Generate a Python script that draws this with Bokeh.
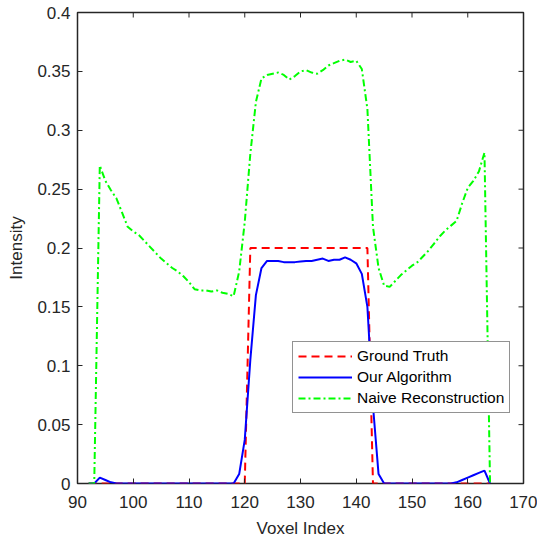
import math
from bokeh.plotting import figure
from bokeh.models import FixedTicker, Legend, LegendItem, Range1d, ColumnDataSource
from bokeh.embed import file_html
from bokeh.resources import INLINE

# ---------------- data ----------------
voxel_index = list(range(92, 165))

ground_truth = (
    [0.0] * (121 - 92) +          # 92..120
    [0.2] * (143 - 121) +         # 121..142
    [0.0] * (165 - 143)           # 143..164
)

our_algorithm = [
    0.0, 0.0, 0.005, 0.003, 0.001,                       # 92-96
    0.0, 0.0, 0.0, 0.0, 0.0, 0.0, 0.0, 0.0, 0.0, 0.0,    # 97-106
    0.0, 0.0, 0.0, 0.0, 0.0, 0.0, 0.0, 0.0, 0.0, 0.0,    # 107-116
    0.0, 0.0, 0.008, 0.037, 0.105, 0.160, 0.183,         # 117-123
    0.189, 0.189, 0.189, 0.188, 0.188, 0.188, 0.1885,    # 124-130
    0.189, 0.189, 0.190, 0.191, 0.189, 0.190, 0.190,    # 131-137
    0.192, 0.190, 0.187, 0.178, 0.150, 0.066, 0.008,    # 138-144
    0.0, 0.0, 0.0, 0.0, 0.0, 0.0, 0.0, 0.0, 0.0, 0.0,    # 145-154
    0.0, 0.0, 0.0, 0.001, 0.003, 0.005, 0.007, 0.009,   # 155-162
    0.011, 0.0,                                          # 163-164
]

naive_reconstruction = [
    0.0, 0.0, 0.270, 0.257, 0.249, 0.242, 0.230, 0.218,  # 92-99
    0.214, 0.211, 0.206, 0.201, 0.196, 0.191, 0.187,     # 100-106
    0.183, 0.180, 0.176, 0.171, 0.165, 0.164, 0.164,     # 107-113
    0.163, 0.164, 0.162, 0.161, 0.159, 0.180, 0.222,     # 114-120
    0.280, 0.324, 0.344, 0.347, 0.348, 0.349, 0.347,     # 121-127
    0.343, 0.346, 0.350, 0.351, 0.349, 0.348, 0.351,     # 128-134
    0.355, 0.357, 0.359, 0.360, 0.358, 0.359, 0.352,     # 135-141
    0.318, 0.218, 0.183, 0.168, 0.167, 0.172, 0.177,     # 142-148
    0.181, 0.185, 0.188, 0.193, 0.198, 0.204, 0.210,     # 149-155
    0.215, 0.219, 0.223, 0.238, 0.251, 0.257, 0.265,     # 156-162
    0.281, 0.0,                                          # 163-164
]

x_ticks = [90, 100, 110, 120, 130, 140, 150, 160, 170]
y_ticks = [0, 0.05, 0.1, 0.15, 0.2, 0.25, 0.3, 0.35, 0.4]
y_tick_labels = ["0", "0.05", "0.1", "0.15", "0.2", "0.25", "0.3", "0.35", "0.4"]

series_labels = ["Ground Truth", "Our Algorithm", "Naive Reconstruction"]

# ---------------- figure ----------------
FONT = "Liberation Sans"
TXT = "#262626"

src = ColumnDataSource(dict(x=voxel_index, gt=ground_truth, ours=our_algorithm, naive=naive_reconstruction))

p = figure(
    frame_width=446, frame_height=471,
    x_range=Range1d(x_ticks[0], x_ticks[-1]), y_range=Range1d(y_ticks[0], y_ticks[-1]),
    output_backend="svg", toolbar_location=None,
    min_border_left=77, min_border_right=14, min_border_top=12, min_border_bottom=58,
)
p.background_fill_color = "white"
p.border_fill_color = "white"
p.grid.visible = False
p.outline_line_color = TXT
p.outline_line_width = 1.5
p.outline_line_alpha = 1.0

r_gt = p.line("x", "gt", source=src, line_color="#FF0000", line_width=2, line_dash="8 5")
r_ours = p.line("x", "ours", source=src, line_color="#0000FF", line_width=2)
r_naive = p.line("x", "naive", source=src, line_color="#00FF00", line_width=2, line_dash="7 3 2 3")

for ax in (p.xaxis[0], p.yaxis[0]):
    ax.axis_line_color = None
    ax.major_tick_in = 5
    ax.major_tick_out = 0
    ax.minor_tick_line_color = None
    ax.major_tick_line_color = TXT
    ax.major_tick_line_width = 1
    ax.major_label_text_font = FONT
    ax.major_label_text_font_size = "17px"
    ax.major_label_text_color = TXT
    ax.axis_label_text_font = FONT
    ax.axis_label_text_font_size = "17px"
    ax.axis_label_text_font_style = "normal"
    ax.axis_label_text_color = TXT

p.xaxis.ticker = FixedTicker(ticks=x_ticks)
p.yaxis.ticker = FixedTicker(ticks=y_ticks)
p.yaxis.major_label_overrides = {t: s for t, s in zip(y_ticks, y_tick_labels)}
p.xaxis.axis_label = "Voxel Index"
p.yaxis.axis_label = "Intensity"
p.xaxis.major_label_standoff = 12
p.xaxis.axis_label_standoff = 8
p.yaxis.major_label_standoff = 7
p.yaxis.axis_label_standoff = 8

# mirrored inward ticks on the top and right edges of the box
p.ray(x=x_ticks, y=[y_ticks[-1]] * len(x_ticks), length=5, length_units="screen",
      angle=-math.pi / 2, line_color=TXT, line_width=1)
p.ray(x=[x_ticks[-1]] * len(y_ticks), y=y_ticks, length=5, length_units="screen",
      angle=math.pi, line_color=TXT, line_width=1)

legend = Legend(
    items=[
        LegendItem(label=series_labels[0], renderers=[r_gt]),
        LegendItem(label=series_labels[1], renderers=[r_ours]),
        LegendItem(label=series_labels[2], renderers=[r_naive]),
    ],
    location=(215, 70),
    border_line_color=TXT, border_line_width=1.5,
    background_fill_color="white", background_fill_alpha=1.0,
    padding=5, spacing=3, margin=0,
    glyph_width=54, glyph_height=18, label_height=18, label_standoff=5,
    label_text_font=FONT, label_text_font_size="15.5px", label_text_color="#000000",
)
p.add_layout(legend)

open("out.html", "w").write(file_html(p, INLINE))
